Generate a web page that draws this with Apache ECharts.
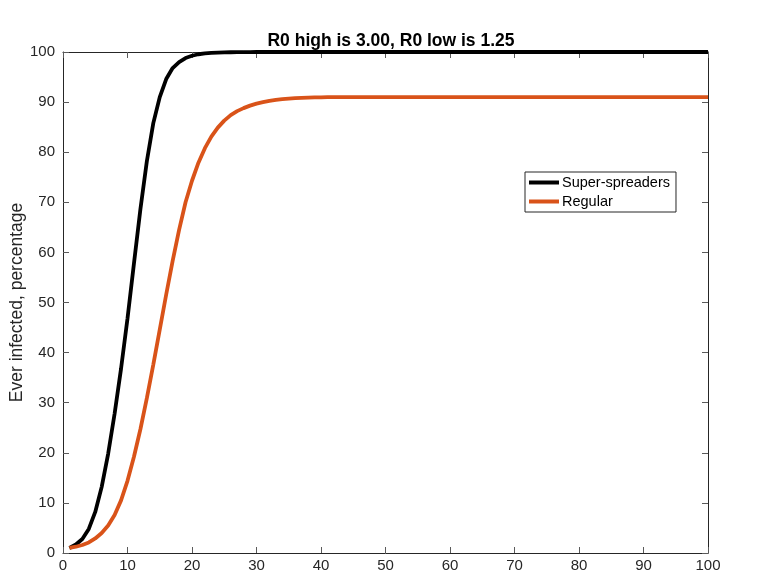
<!DOCTYPE html>
<html>
<head>
<meta charset="utf-8">
<script src="https://cdn.jsdelivr.net/npm/echarts@6/dist/echarts.min.js"></script>
<style>
  html, body { margin: 0; padding: 0; background: #fff; }
  #chart { width: 780px; height: 584px; }
</style>
</head>
<body>
<div id="chart"></div>
<script>
// Day index of the simulation (1..100)
const days = Array.from({ length: 100 }, (_, i) => i + 1);

// Cumulative share ever infected (%), super-spreader scenario
const superSpreaders = [
  1.0, 1.7, 2.8, 4.8, 8.2, 13.2, 19.8, 27.8, 36.8, 46.8,
  57.8, 68.6, 78.2, 85.8, 91.0, 94.6, 96.8, 98.0, 98.8, 99.25,
  99.55, 99.72, 99.82, 99.88, 99.92, 99.95, 99.97, 99.98, 99.99, 100,
  100, 100, 100, 100, 100, 100, 100, 100, 100, 100,
  100, 100, 100, 100, 100, 100, 100, 100, 100, 100,
  100, 100, 100, 100, 100, 100, 100, 100, 100, 100,
  100, 100, 100, 100, 100, 100, 100, 100, 100, 100,
  100, 100, 100, 100, 100, 100, 100, 100, 100, 100,
  100, 100, 100, 100, 100, 100, 100, 100, 100, 100,
  100, 100, 100, 100, 100, 100, 100, 100, 100, 100
];

// Cumulative share ever infected (%), regular scenario
const regular = [
  1.0, 1.25, 1.6, 2.1, 2.9, 4.0, 5.5, 7.6, 10.5, 14.4,
  19.2, 24.7, 30.9, 37.6, 44.6, 51.6, 58.3, 64.5, 70.0, 74.3,
  77.9, 80.8, 83.1, 84.9, 86.3, 87.4, 88.2, 88.8, 89.3, 89.7,
  90.0, 90.25, 90.45, 90.6, 90.7, 90.8, 90.85, 90.9, 90.93, 90.96,
  90.98, 91.0, 91.0, 91.0, 91.0, 91.0, 91.0, 91.0, 91.0, 91.0,
  91.0, 91.0, 91.0, 91.0, 91.0, 91.0, 91.0, 91.0, 91.0, 91.0,
  91.0, 91.0, 91.0, 91.0, 91.0, 91.0, 91.0, 91.0, 91.0, 91.0,
  91.0, 91.0, 91.0, 91.0, 91.0, 91.0, 91.0, 91.0, 91.0, 91.0,
  91.0, 91.0, 91.0, 91.0, 91.0, 91.0, 91.0, 91.0, 91.0, 91.0,
  91.0, 91.0, 91.0, 91.0, 91.0, 91.0, 91.0, 91.0, 91.0, 91.0
];

const seriesNames = ['Super-spreaders', 'Regular'];
const seriesColors = ['#000000', '#D95319'];
const titleText = 'R0 high is 3.00, R0 low is 1.25';
const yLabel = 'Ever infected, percentage';

const axisColor = '#262626';
const tickColor = '#5a5a5a';
const font = 'Liberation Sans, Arial, Helvetica, sans-serif';

const pairs = (ys) => days.map((d, i) => [d, ys[i]]);

// One side of the boxed frame: 0..100 in steps of 10, ticks pointing inward
function boxAxis(extra) {
  return Object.assign({
    type: 'value',
    min: 0,
    max: 100,
    interval: 10,
    splitLine: { show: false },
    axisLine: { show: true, onZero: false, lineStyle: { color: axisColor, width: 1 } },
    axisTick: { show: true, inside: true, length: 6, lineStyle: { color: tickColor, width: 1 } },
    axisLabel: { show: false }
  }, extra);
}

const tickLabel = (margin) => ({ show: true, color: axisColor, fontSize: 15, fontFamily: font, margin: margin });

const chart = echarts.init(document.getElementById('chart'), null, { renderer: 'canvas' });

chart.setOption({
  backgroundColor: '#ffffff',
  animation: false,
  title: {
    text: titleText,
    left: 386,
    textAlign: 'center',
    top: 27,
    textStyle: { fontSize: 17.5, fontWeight: 'bold', color: '#000', fontFamily: font }
  },
  grid: { left: 63, right: 72, top: 52, bottom: 31, containLabel: false, outerBoundsMode: 'none' },
  xAxis: [
    boxAxis({ position: 'bottom', axisLabel: tickLabel(5) }),
    boxAxis({ position: 'top' })
  ],
  yAxis: [
    boxAxis({
      position: 'left',
      name: yLabel,
      nameLocation: 'middle',
      nameGap: 37,
      nameMoveOverlap: false,
      nameTextStyle: { color: axisColor, fontSize: 17.5, fontFamily: font },
      axisLabel: tickLabel(8)
    }),
    boxAxis({ position: 'right' })
  ],
  legend: {
    data: seriesNames.map((n) => ({ name: n, icon: 'rect' })),
    orient: 'vertical',
    left: 525,
    top: 172,
    itemWidth: 30,
    itemHeight: 4,
    itemGap: 4,
    padding: [3, 6, 3, 4],
    borderColor: axisColor,
    borderWidth: 1,
    backgroundColor: '#fff',
    textStyle: { color: '#000', fontSize: 14.5, fontFamily: font, padding: [0, 0, 0, -2] }
  },
  series: [
    {
      name: seriesNames[0],
      type: 'line',
      xAxisIndex: 0,
      yAxisIndex: 0,
      data: pairs(superSpreaders),
      showSymbol: false,
      lineStyle: { color: seriesColors[0], width: 3.8 },
      itemStyle: { color: seriesColors[0] },
      z: 2
    },
    {
      name: seriesNames[1],
      type: 'line',
      xAxisIndex: 0,
      yAxisIndex: 0,
      data: pairs(regular),
      showSymbol: false,
      lineStyle: { color: seriesColors[1], width: 3.8 },
      itemStyle: { color: seriesColors[1] },
      z: 3
    }
  ]
});
</script>
</body>
</html>
